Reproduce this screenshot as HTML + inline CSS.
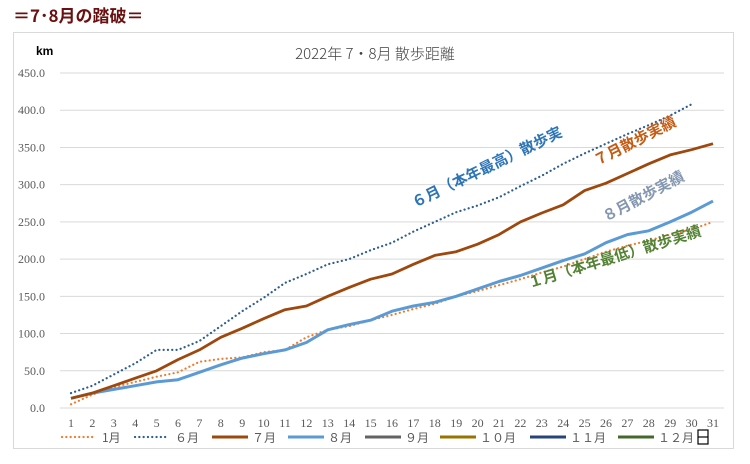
<!DOCTYPE html>
<html><head><meta charset="utf-8"><style>
body{margin:0;width:750px;height:464px;background:#fff;overflow:hidden;font-family:"Liberation Sans","Noto Sans CJK JP",sans-serif;}
svg{position:absolute;left:0;top:0}
</style></head><body>
<svg id="s" width="750" height="464" xmlns="http://www.w3.org/2000/svg" font-family="Liberation Sans, Noto Sans CJK JP, sans-serif">
<text x="13" y="22" font-size="17" font-weight="bold" fill="#6b1010" font-family="Noto Sans CJK JP, sans-serif">＝7･8月の踏破＝</text>
<rect x="13.5" y="32.5" width="720" height="416" fill="#fff" stroke="#d9d9d9"/>
<text x="36" y="55" font-size="12" font-weight="bold" fill="#000">km</text>
<text x="375" y="59" font-size="15" fill="#404040" text-anchor="middle" font-family="Noto Sans CJK JP, sans-serif" font-weight="300">2022年 7・8月 散歩距離</text>
<g id="grid"></g>
<g id="lines"></g>
<g font-weight="bold" font-size="15" font-family="Noto Sans CJK JP, sans-serif">
<text transform="translate(415,208) rotate(-26)" fill="#2e75b6">６月（本年最高）散歩実</text>
<text transform="translate(597,166) rotate(-27)" fill="#c55a11">７月散歩実績</text>
<text transform="translate(606,222) rotate(-28)" fill="#8497b0">８月散歩実績</text>
<text transform="translate(530,288) rotate(-17)" fill="#548235">１月（本年最低）散歩実績</text>
</g>
<g id="legend" font-size="12" fill="#595959" font-family="Noto Sans CJK JP, sans-serif"></g>
</svg>
<script>
var s=document.getElementById('s'),NS='http://www.w3.org/2000/svg';
function el(p,t,a,txt){var e=document.createElementNS(NS,t);for(var k in a)e.setAttribute(k,a[k]);if(txt!=null)e.textContent=txt;document.getElementById(p).appendChild(e);return e;}
function X(d){return 71+(d-1)*21.4;}function Y(v){return 408-v*0.7444;}
for(var i=0;i<=9;i++){var v=i*50,y=Y(v);el('grid','line',{x1:60,x2:724,y1:y,y2:y,stroke:'#d9d9d9','stroke-width':1});
el('grid','text',{x:45,y:y+4,'font-size':12,fill:'#595959','text-anchor':'end','font-family':'Liberation Serif, serif'},v.toFixed(1));}
for(var d=1;d<=31;d++)el('grid','text',{x:X(d),y:427,'font-size':12,fill:'#595959','text-anchor':'middle','font-family':'Liberation Serif, serif'},d);
var m1=[5,18,28,35,42,48,62,66,68,75,78,95,105,110,118,125,133,140,150,157,165,173,182,190,200,210,218,225,233,240,250];
var m6=[20,30,45,60,78,78,90,110,130,148,168,180,193,200,212,222,237,250,263,272,283,298,312,328,342,355,368,380,393,408];
var m7=[13,20,30,40,50,65,78,95,107,120,132,137,150,162,173,180,193,205,210,220,233,250,262,273,292,302,315,328,340,347,355];
var m8=[13,20,25,30,35,38,48,58,67,73,78,88,105,112,118,130,137,142,150,160,170,178,188,198,207,222,233,238,250,263,278];
function pl(a,c,w,dash){var p=a.map(function(v,i){return X(i+1).toFixed(1)+','+Y(v).toFixed(1)}).join(' ');
var o={points:p,fill:'none',stroke:c,'stroke-width':w,'stroke-linejoin':'round'};if(dash){o['stroke-dasharray']=dash;o['stroke-linecap']='round';}el('lines','polyline',o);}
pl(m1,'#ed7d31',2.2,'0.1 4.2');pl(m6,'#2e5e8e',2.2,'0.1 4.2');pl(m8,'#5b9bd5',3);pl(m7,'#9e480e',2.8);
var L=[['1月','#ed7d31',1,62],['６月','#2e5e8e',1,135],['７月','#9e480e',0,212],['８月','#5b9bd5',0,288],['９月','#636363',0,365],['１０月','#997300',0,440],['１１月','#264478',0,530],['１２月','#43682b',0,618]];
L.forEach(function(l){var x=l[3],y=437;if(l[2])el('legend','line',{x1:x,x2:x+34,y1:y,y2:y,stroke:l[1],'stroke-width':2.2,'stroke-dasharray':'0.1 4.2','stroke-linecap':'round'});
else el('legend','line',{x1:x,x2:x+36,y1:y,y2:y,stroke:l[1],'stroke-width':3});
el('legend','text',{x:x+40,y:y+5},l[0]);});
el('legend','rect',{x:698,y:430,width:10,height:14,fill:'none',stroke:'#000','stroke-width':1.2});
el('legend','line',{x1:698,x2:708,y1:437,y2:437,stroke:'#000','stroke-width':1.2});
</script>
</body></html>
